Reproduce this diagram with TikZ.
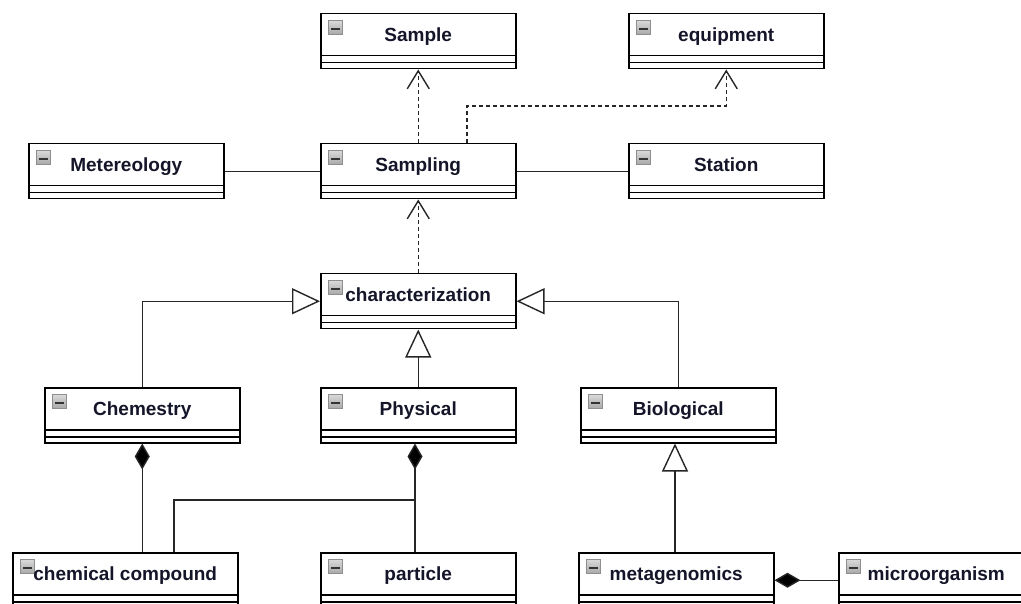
\documentclass[tikz,border=0pt]{standalone}
\usepackage{fontspec}
\setmainfont{Liberation Sans}
\usetikzlibrary{arrows.meta}
\definecolor{iconlight}{HTML}{DADADA}
\definecolor{icondark}{HTML}{A9A9A9}
\definecolor{iconedge}{HTML}{8E8E8E}
\definecolor{txt}{HTML}{15152A}
\tikzset{
  umlclass/.style={draw=black, line width=1.5pt, fill=white, rectangle, anchor=north west,
    minimum width=195pt, minimum height=55pt, inner xsep=0pt, inner ysep=0pt,
    text height=28pt, text depth=27pt, font=\fontsize{19}{22}\selectfont\bfseries, text=txt,
    path picture={
      \draw[line width=1.5pt,black] ([yshift=-42pt]path picture bounding box.north west) -- ([yshift=-42pt]path picture bounding box.north east);
      \draw[line width=1.5pt,black] ([yshift=-49pt]path picture bounding box.north west) -- ([yshift=-49pt]path picture bounding box.north east);
      \draw[line width=0.9pt, draw=iconedge, top color=iconlight, bottom color=icondark] ([xshift=8pt,yshift=-6.5pt]path picture bounding box.north west) rectangle ++(14pt,-14pt);
      \draw[line width=2.4pt, black!80] ([xshift=10.5pt,yshift=-15pt]path picture bounding box.north west) -- ++(9pt,0pt);
    }},
  conn/.style={line width=1.4pt, black!85},
  assoc/.style={conn},
  dep/.style={conn, dash pattern=on 4pt off 3pt, -{Straight Barb[length=18pt,width=22pt,line width=1.4pt]}},
  gen/.style={conn, -{Triangle[length=28pt,width=26pt,fill=white,line width=1.4pt]}},
  comp/.style={conn, {Diamond[length=26pt,width=15pt,fill=black]}-},
}
\begin{document}
\begin{tikzpicture}[x=1pt,y=-1pt]
\useasboundingbox (0,0) rectangle (1021,604);
\clip (0,0) rectangle (1021,604);
\fill[white] (0,0) rectangle (1021,604);

\node[umlclass] (sample) at (320,13) {Sample};
\node[umlclass] (equipment) at (628,13) {equipment};
\node[umlclass] (metereology) at (28,143) {Metereology};
\node[umlclass] (sampling) at (320,143) {Sampling};
\node[umlclass] (station) at (628,143) {Station};
\node[umlclass] (charact) at (320,273) {characterization};
\node[umlclass] (chemestry) at (44,387) {Chemestry};
\node[umlclass] (physical) at (320,387) {Physical};
\node[umlclass] (biological) at (580,387) {Biological};
\node[umlclass, minimum width=225pt] (chemcomp) at (12,552) {chemical compound};
\node[umlclass] (particle) at (320,552) {particle};
\node[umlclass] (metagen) at (578,552) {metagenomics};
\node[umlclass] (microorg) at (838,552) {microorganism};

\draw[dep] (sampling.north) -- (sample.south);
\coordinate (eqbend) at (467,106);
\draw[dep] (sampling.north -| eqbend) -- (eqbend) -| (equipment.south);
\draw[assoc] (metereology.east) -- (sampling.west);
\draw[assoc] (sampling.east) -- (station.west);
\draw[dep] (charact.north) -- (sampling.south);
\draw[gen] (chemestry.north) |- (charact.west);
\draw[gen] (physical.north) -- (charact.south);
\draw[gen] (biological.north) |- (charact.east);
\draw[comp] (chemestry.south) -- (chemestry.south |- chemcomp.north);
\coordinate (pj) at (415,500);
\coordinate (cj) at (174,500);
\draw[comp] (physical.south -| pj) -- (particle.north -| pj);
\draw[assoc] (chemcomp.north -| cj) -- (cj) -- (pj);
\coordinate (mg) at (675,500);
\draw[gen] (metagen.north -| mg) -- (biological.south -| mg);
\draw[comp] (metagen.east) -- (microorg.west);
\end{tikzpicture}
\end{document}
